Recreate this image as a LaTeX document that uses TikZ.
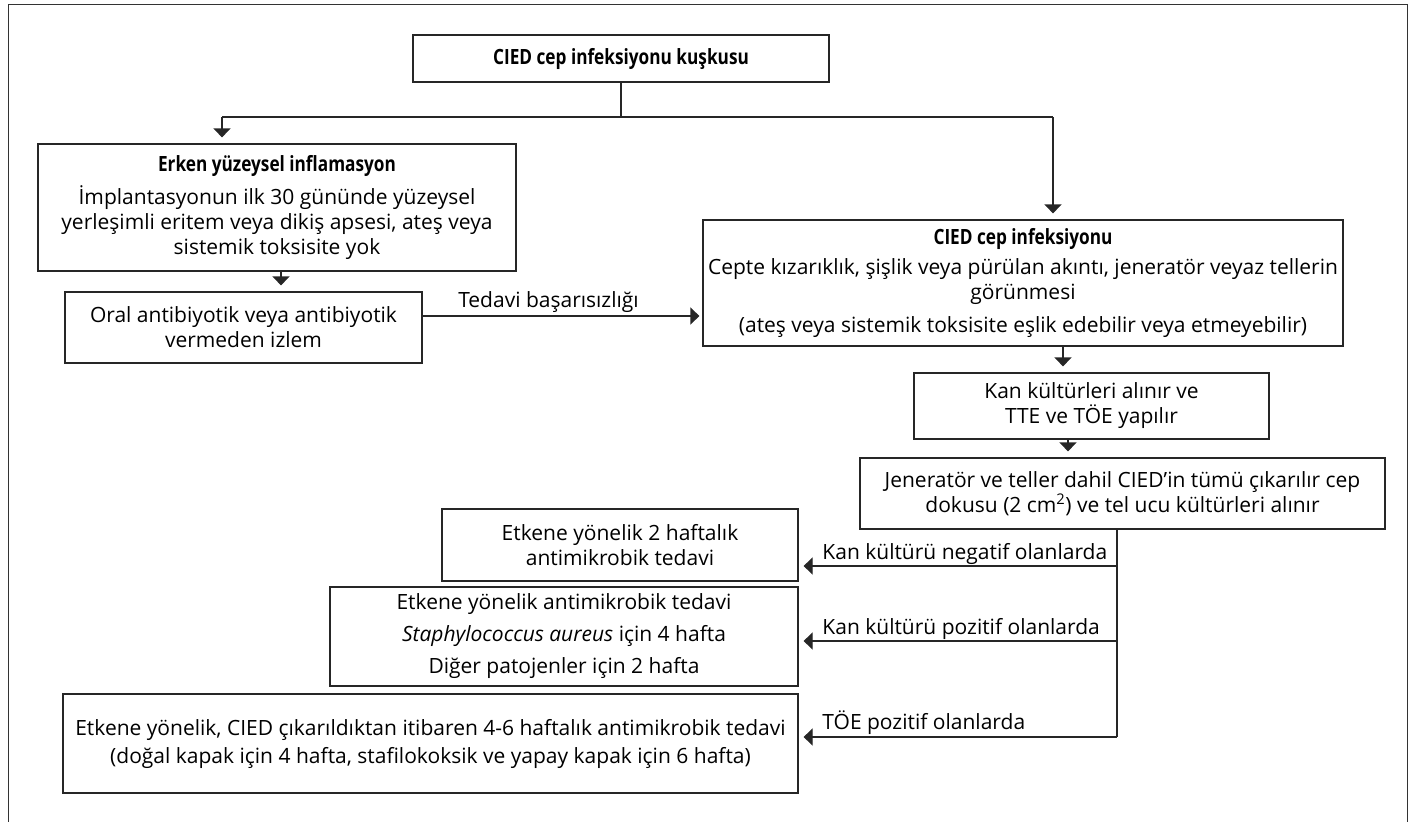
\documentclass[tikz,border=0pt]{standalone}
\usepackage{fontspec}
\setmainfont{Open Sans}[BoldFeatures={FakeStretch=0.82}]
\usetikzlibrary{arrows.meta,calc}
\newcommand{\dfont}{\fontsize{21}{25}\selectfont}
\begin{document}
\begin{tikzpicture}[x=1pt,y=-1pt,
  box/.style={draw=black!85, line width=1.2pt, align=center, inner sep=0pt, font=\dfont},
  ln/.style={draw=black!85, line width=1.2pt},
  arr/.style={draw=black!85, line width=1.2pt, -{Triangle[width=17pt,length=9pt]}, shorten >=6pt},
  lbl/.style={font=\dfont, inner sep=0pt}]
\useasboundingbox (0,0) rectangle (1417,822);
\draw[draw=black!80, line width=1pt] (8,822) -- (8,4) -- (1407,4) -- (1407,822);

\node[box, minimum width=416pt, minimum height=47pt] (top) at (621,58.5) {\textbf{CIED cep infeksiyonu kuşkusu}};
\node[box, minimum width=478pt, minimum height=127pt] (erken) at (277,207.5)
  {\textbf{Erken yüzeysel inflamasyon}\\[8pt]
   İmplantasyonun ilk 30 gününde yüzeysel\\
   yerleşimli eritem veya dikiş apsesi, ateş veya\\
   sistemik toksisite yok};
\node[box, minimum width=357pt, minimum height=71pt] (oral) at (243.5,327.5)
  {Oral antibiyotik veya antibiyotik\\ vermeden izlem};
\node[box, minimum width=640pt, minimum height=126pt] (cied) at (1023,283)
  {\textbf{CIED cep infeksiyonu}\\[5pt]
   Cepte kızarıklık, şişlik veya pürülan akıntı, jeneratör veyaz tellerin\\
   görünmesi\\[8pt]
   (ateş veya sistemik toksisite eşlik edebilir veya etmeyebilir)};
\node[box, minimum width=355pt, minimum height=66pt] (kan) at (1091.5,406)
  {Kan kültürleri alınır ve\\ TTE ve TÖE yapılır};
\node[box, minimum width=525pt, minimum height=71pt] (jen) at (1122.5,493.5)
  {Jeneratör ve teller dahil CIED'in tümü çıkarılır cep\\ dokusu (2 cm\textsuperscript{2}) ve tel ucu kültürleri alınır};
\node[box, minimum width=356pt, minimum height=72pt] (etk2) at (620,545)
  {Etkene yönelik 2 haftalık\\ antimikrobik tedavi};
\node[box, minimum width=468pt, minimum height=99pt] (etkS) at (564,636.5)
  {Etkene yönelik antimikrobik tedavi\\[7pt]
   \textit{Staphylococcus aureus} için 4 hafta\\[7pt]
   Diğer patojenler için 2 hafta};
\node[box, minimum width=735pt, minimum height=99pt] (etk46) at (430.5,743.5)
  {Etkene yönelik, CIED çıkarıldıktan itibaren 4-6 haftalık antimikrobik tedavi\\[3pt]
   (doğal kapak için 4 hafta, stafilokoksik ve yapay kapak için 6 hafta)};

\coordinate (j1) at (621,117);
\coordinate (cl) at (222,117);
\coordinate (cr) at (1053,117);
\draw[ln] (top.south) -- (j1);
\draw[ln] (cl) -- (cr);
\draw[arr] (cl) -- (cl |- erken.north);
\draw[arr] (cr) -- (cr |- cied.north);
\draw[arr] ([xshift=4pt]erken.south) -- ([xshift=4pt]erken.south |- oral.north);
\draw[arr, shorten >=3pt] ([yshift=11.5pt]oral.east) -- ([yshift=11.5pt]oral.east -| cied.west)
  node[lbl, pos=0.45, anchor=base, yshift=9pt] {Tedavi başarısızlığı};
\coordinate (ck) at (1063,0);
\coordinate (kj) at (1068,0);
\draw[arr] (ck |- cied.south) -- (ck |- kan.north);
\draw[arr] (kj |- kan.south) -- (kj |- jen.north);

\coordinate (vx) at (1117,0);
\coordinate (yn) at (0,566);
\coordinate (yp) at (0,641);
\coordinate (yt) at (0,737);
\draw[ln] (vx |- jen.south) -- (vx |- yt);
\draw[arr, shorten >=5pt] (vx |- yn) -- (etk2.east |- yn)
  node[lbl, pos=0.927, anchor=base west, yshift=7pt] {Kan kültürü negatif olanlarda};
\draw[arr, shorten >=5pt] (vx |- yp) -- (etkS.east |- yp)
  node[lbl, pos=0.927, anchor=base west, yshift=7pt] {Kan kültürü pozitif olanlarda};
\draw[arr, shorten >=5pt] (vx |- yt) -- (etk46.east |- yt)
  node[lbl, pos=0.927, anchor=base west, yshift=8pt] {TÖE pozitif olanlarda};
\end{tikzpicture}
\end{document}
